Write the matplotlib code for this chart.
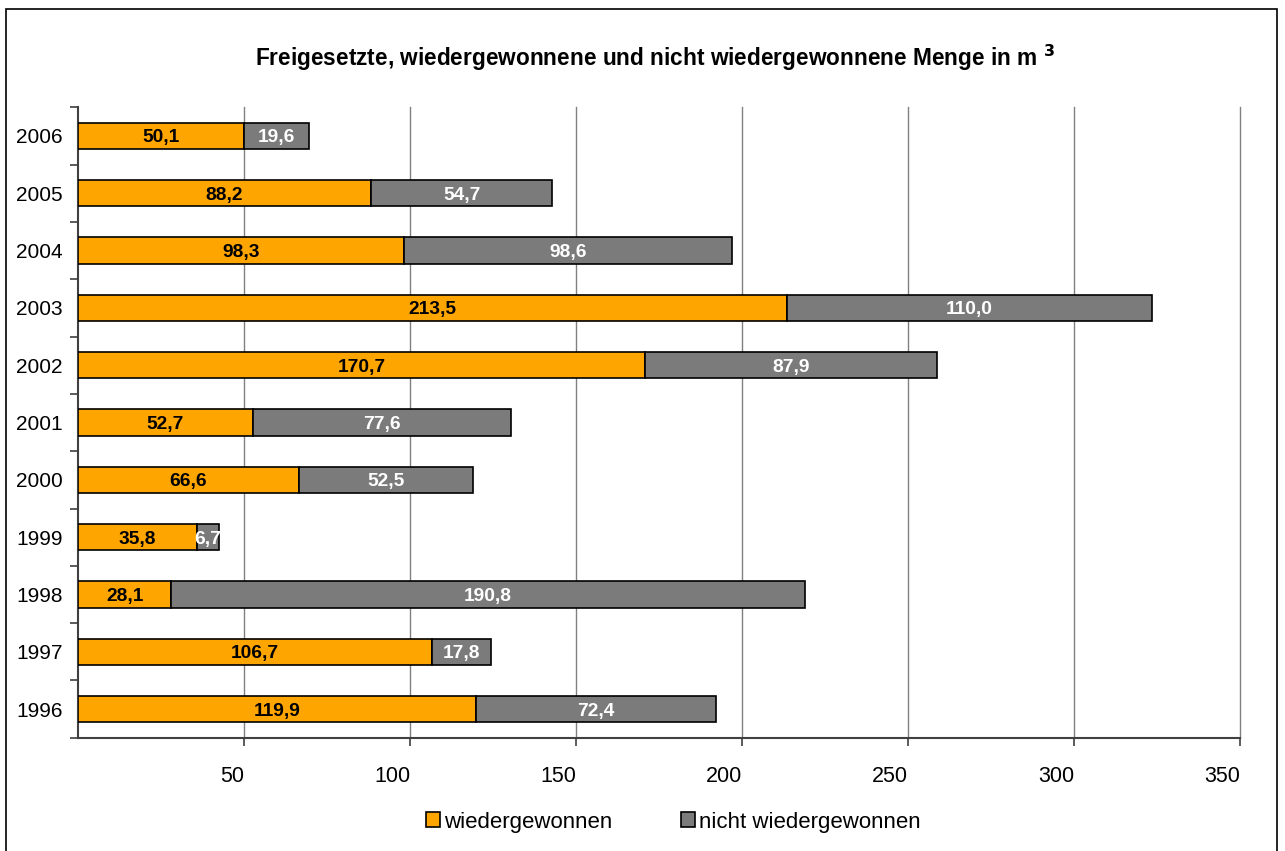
import matplotlib
matplotlib.use("Agg")

import matplotlib.pyplot as plt
import numpy as np

# data, top to bottom as shown
years = ["2006", "2005", "2004", "2003", "2002", "2001", "2000", "1999", "1998", "1997", "1996"]
wieder = [50.1, 88.2, 98.3, 213.5, 170.7, 52.7, 66.6, 35.8, 28.1, 106.7, 119.9]
nicht = [19.6, 54.7, 98.6, 110.0, 87.9, 77.6, 52.5, 6.7, 190.8, 17.8, 72.4]
xticks = [50, 100, 150, 200, 250, 300, 350]

plt.rcParams["font.family"] = ["Liberation Sans", "DejaVu Sans"]

fig = plt.figure(figsize=(12.85, 8.51), dpi=100)
ax = fig.add_axes([0.0607, 0.133, 0.9043, 0.741])

y = np.arange(len(years))
h = 0.46
b1 = ax.barh(y, wieder, height=h, color="#FFA500", edgecolor="black", linewidth=1.2,
             label="wiedergewonnen", zorder=3)
b2 = ax.barh(y, nicht, height=h, left=wieder, color="#7b7b7b", edgecolor="black", linewidth=1.2,
             label="nicht wiedergewonnen", zorder=3)

fmt = lambda v: ("%.1f" % v).replace(".", ",")
for i in range(len(years)):
    ax.text(wieder[i] / 2, y[i], fmt(wieder[i]), ha="center", va="center_baseline",
            fontsize=13.8, fontweight="bold", color="black", zorder=4)
    ax.text(wieder[i] + nicht[i] / 2, y[i], fmt(nicht[i]), ha="center", va="center_baseline",
            fontsize=13.8, fontweight="bold", color="white", zorder=4)

ax.set_xlim(0, 350)
ax.set_ylim(len(years) - 0.5, -0.5)
ax.set_xticks(xticks)
ax.set_xticklabels([str(t) for t in xticks], ha="right")
ax.set_yticks(y)
ax.set_yticklabels(years)
ax.set_yticks(np.arange(-0.5, len(years)), minor=True)
ax.tick_params(axis="y", which="major", length=0, pad=11, labelsize=15)
ax.tick_params(axis="y", which="minor", length=6, width=1.2, color="#404040")
ax.tick_params(axis="x", length=6, width=1.2, color="#404040", pad=14, labelsize=15.5)
ax.grid(axis="x", color="#808080", linewidth=1, zorder=0)
for gl in ax.get_xgridlines():
    gl.set_clip_on(False)

for s in ["top", "right"]:
    ax.spines[s].set_visible(False)
for s in ["left", "bottom"]:
    ax.spines[s].set_color("#404040")
    ax.spines[s].set_linewidth(1.5)

fig.text(0.51, 0.932, r"Freigesetzte, wiedergewonnene und nicht wiedergewonnene Menge in m $^{\mathbf{3}}$",
         ha="center", va="center", fontsize=16.3, fontweight="bold")

fig.legend(handles=[b1, b2], loc="center", bbox_to_anchor=(0.524, 0.034), ncol=2, frameon=False,
           fontsize=16, handlelength=0.65, handleheight=0.65, handletextpad=0.2, columnspacing=3.05)

# outer border
fig.patches.append(plt.Rectangle((0.005, -0.01), 0.989, 1.0, transform=fig.transFigure,
                                 fill=False, edgecolor="black", linewidth=1.2))

plt.savefig("out.png", dpi=100)
